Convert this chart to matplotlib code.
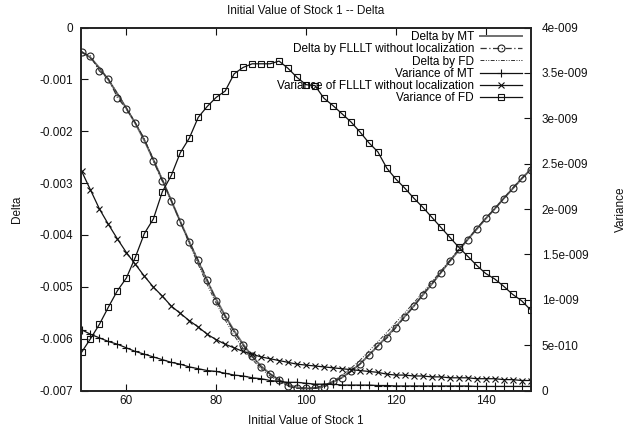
import matplotlib
matplotlib.use("Agg")
import matplotlib.pyplot as plt
import numpy as np

plt.rcParams['font.family'] = ['Liberation Sans', 'DejaVu Sans']

# ---- data ----
stock = list(range(50, 151, 2))

delta_flllt = [-0.00048, -0.00055, -0.00084, -0.00099, -0.00135, -0.00157, -0.00184, -0.00215,
               -0.00257, -0.00296, -0.00334, -0.00375, -0.00413, -0.00449, -0.00486, -0.00527,
               -0.00557, -0.00587, -0.00613, -0.00634, -0.00655, -0.00668, -0.00679, -0.00692,
               -0.00696, -0.00695, -0.00696, -0.00694, -0.00682, -0.00676, -0.00663, -0.00649,
               -0.00631, -0.00614, -0.00599, -0.00579, -0.00558, -0.00538, -0.00515, -0.00495,
               -0.00473, -0.00451, -0.00428, -0.00409, -0.00388, -0.00368, -0.00350, -0.00330,
               -0.00310, -0.00291, -0.00275]

delta_mt = [-0.00047, -0.00058, -0.00078, -0.00101, -0.00128, -0.00156, -0.00185, -0.00218,
            -0.00255, -0.00294, -0.00334, -0.00374, -0.00413, -0.00451, -0.00489, -0.00524,
            -0.00556, -0.00585, -0.00611, -0.00634, -0.00653, -0.00668, -0.00680, -0.00689,
            -0.00694, -0.00696, -0.00695, -0.00691, -0.00684, -0.00675, -0.00663, -0.00649,
            -0.00632, -0.00614, -0.00596, -0.00577, -0.00557, -0.00537, -0.00516, -0.00495,
            -0.00473, -0.00451, -0.00430, -0.00409, -0.00389, -0.00369, -0.00350, -0.00330,
            -0.00311, -0.00292, -0.00274]

delta_fd = [-0.00046, -0.00059, -0.00079, -0.00100, -0.00127, -0.00155, -0.00184, -0.00216,
            -0.00253, -0.00293, -0.00333, -0.00375, -0.00417, -0.00457, -0.00496, -0.00532,
            -0.00564, -0.00594, -0.00619, -0.00640, -0.00658, -0.00672, -0.00683, -0.00691,
            -0.00696, -0.00697, -0.00695, -0.00690, -0.00682, -0.00671, -0.00657, -0.00642,
            -0.00624, -0.00606, -0.00588, -0.00569, -0.00550, -0.00531, -0.00511, -0.00491,
            -0.00470, -0.00449, -0.00428, -0.00408, -0.00388, -0.00368, -0.00349, -0.00330,
            -0.00311, -0.00292, -0.00274]

# variances in units of 1e-9
var_mt_e9 = [0.67, 0.62, 0.58, 0.54, 0.51, 0.47, 0.43, 0.40, 0.37, 0.34, 0.31, 0.29, 0.26,
             0.24, 0.22, 0.21, 0.19, 0.17, 0.16, 0.14, 0.13, 0.11, 0.10, 0.09, 0.09, 0.08,
             0.07, 0.07, 0.07, 0.06, 0.06, 0.06, 0.06, 0.055, 0.055, 0.05, 0.05, 0.05, 0.05,
             0.05, 0.05, 0.05, 0.05, 0.05, 0.045, 0.045, 0.045, 0.045, 0.045, 0.045, 0.045]

var_flllt_e9 = [2.42, 2.21, 2.00, 1.83, 1.67, 1.52, 1.39, 1.26, 1.14, 1.04, 0.93, 0.85, 0.77,
                0.70, 0.62, 0.56, 0.51, 0.47, 0.43, 0.40, 0.37, 0.35, 0.33, 0.31, 0.29, 0.28,
                0.27, 0.26, 0.25, 0.24, 0.23, 0.22, 0.21, 0.20, 0.18, 0.17, 0.17, 0.16, 0.16,
                0.15, 0.15, 0.14, 0.14, 0.14, 0.13, 0.13, 0.13, 0.12, 0.12, 0.11, 0.11]

var_fd_e9 = [0.42, 0.57, 0.73, 0.92, 1.10, 1.24, 1.47, 1.73, 1.89, 2.19, 2.37, 2.62, 2.78,
             3.01, 3.13, 3.23, 3.30, 3.49, 3.56, 3.60, 3.60, 3.60, 3.63, 3.55, 3.45, 3.37,
             3.36, 3.22, 3.14, 3.05, 2.96, 2.85, 2.73, 2.63, 2.45, 2.33, 2.23, 2.12, 2.02,
             1.91, 1.80, 1.69, 1.58, 1.48, 1.38, 1.29, 1.23, 1.15, 1.06, 0.99, 0.89]

x_ticks = [60, 80, 100, 120, 140]
y_ticks = [0, -0.001, -0.002, -0.003, -0.004, -0.005, -0.006, -0.007]
y_tick_labels = ["0", "-0.001", "-0.002", "-0.003", "-0.004", "-0.005", "-0.006", "-0.007"]
y2_ticks_e9 = [0, 0.5, 1.0, 1.5, 2.0, 2.5, 3.0, 3.5, 4.0]
y2_tick_labels = ["0", "5e-010", "1e-009", "1.5e-009", "2e-009", "2.5e-009", "3e-009",
                  "3.5e-009", "4e-009"]

labels = ["Delta by MT", "Delta by FLLLT without localization", "Delta by FD",
          "Variance of MT", "Variance of FLLLT without localization", "Variance of FD"]

# ---- figure ----
W, H = 633, 432
fig = plt.figure(figsize=(W / 100, H / 100), dpi=100)
L, R, T, B = 81.5, 530.5, 27.5, 390.5
ax = fig.add_axes([L / W, 1 - B / H, (R - L) / W, (B - T) / H])
ax2 = ax.twinx()

fs = 8.5
ink = '#111111'

x = np.array(stock)
h1, = ax.plot(x, delta_mt, color='#707070', lw=1.4, ls='-', label=labels[0])
h2, = ax.plot(x, delta_flllt, color='#333333', lw=0.9, ls=(0, (5, 2, 1, 2)),
              marker='o', ms=5, mfc='none', mec='#222222', mew=0.8, label=labels[1])
h3, = ax.plot(x, delta_fd, color='#333333', lw=0.7, ls=(0, (4, 1.5, 1, 1.5, 1, 1.5)),
              label=labels[2])

v = 1e-9
h4, = ax2.plot(x, np.array(var_mt_e9) * v, color=ink, lw=0.9, marker='+', ms=6, mew=0.8,
               label=labels[3])
h5, = ax2.plot(x, np.array(var_flllt_e9) * v, color=ink, lw=0.9, marker='x', ms=4.5, mew=0.8,
               label=labels[4])
h6, = ax2.plot(x, np.array(var_fd_e9) * v, color=ink, lw=0.9, marker='s', ms=4.5, mfc='none',
               mec=ink, mew=0.8, label=labels[5])

ax.set_xlim(50, 150)
ax.set_ylim(-0.007, 0)
ax2.set_ylim(0, 4e-9)

ax.set_xticks(x_ticks)
ax.set_xticklabels([str(t) for t in x_ticks])
ax.set_yticks(y_ticks)
ax.set_yticklabels(y_tick_labels)
ax2.set_yticks([t * v for t in y2_ticks_e9])
ax2.set_yticklabels(y2_tick_labels)

ax.tick_params(axis='x', direction='in', top=True, bottom=True, length=5, width=0.8,
               labelsize=fs, pad=3, colors=ink)
ax.tick_params(axis='y', direction='in', left=True, right=False, length=5, width=0.8,
               labelsize=fs, pad=6, colors=ink)
ax2.tick_params(axis='y', direction='in', right=True, length=5, width=0.8,
                labelsize=fs, pad=8, colors=ink)

for a in (ax, ax2):
    for s in a.spines.values():
        s.set_color('#222222')
        s.set_linewidth(1.2)

ax.set_xlabel("Initial Value of Stock 1", fontsize=fs, color=ink, labelpad=6)
ax.set_ylabel("Delta", fontsize=fs, color=ink, labelpad=12)
ax2.set_ylabel("Variance", fontsize=fs, color=ink, labelpad=19)
ax.set_title("Initial Value of Stock 1 -- Delta", fontsize=fs, color=ink, pad=10)

leg = ax2.legend(handles=[h1, h2, h3, h4, h5, h6], loc='upper right', frameon=False,
                 fontsize=fs, markerfirst=False, numpoints=1, handlelength=3.6,
                 handletextpad=0.5, labelspacing=0.02, borderaxespad=0.0, borderpad=0.3,
                 bbox_to_anchor=(0.99, 1.0))

fig.savefig("out.png", dpi=100)
